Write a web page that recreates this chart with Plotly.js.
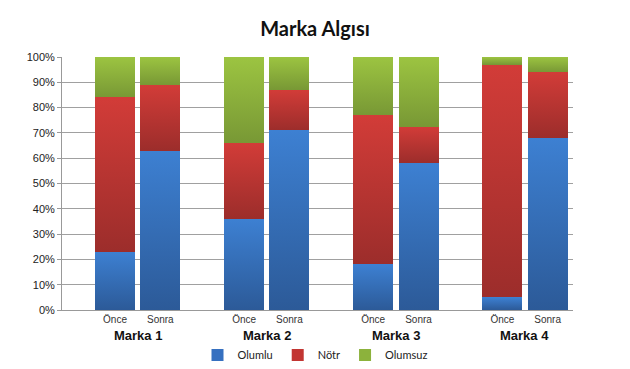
<!DOCTYPE html>
<html>
<head>
<meta charset="utf-8">
<script src="https://cdn.plot.ly/plotly-3.0.1.min.js"></script>
<style>html,body{margin:0;padding:0;background:#fff;}#chart{width:630px;height:369px;}</style>
</head>
<body>
<div id="chart"></div>
<script>
const groups = ["Marka 1", "Marka 2", "Marka 3", "Marka 4"];
const phases = ["Önce", "Sonra"];
const seriesNames = ["Olumlu", "Nötr", "Olumsuz"];
// values in %, order: M1 Önce, M1 Sonra, M2 Önce, M2 Sonra, M3 Önce, M3 Sonra, M4 Önce, M4 Sonra
const olumlu  = [23, 63, 36, 71, 18, 58, 5, 68];
const notr    = [61, 26, 30, 16, 59, 14.5, 92, 26];
const olumsuz = [16, 11, 34, 13, 23, 27.5, 3, 6];
const yTickLabels = ["0%","10%","20%","30%","40%","50%","60%","70%","80%","90%","100%"];

const groupStep = 2.85;
const xs = [], tickText = [];
groups.forEach((g, gi) => phases.forEach((p, pi) => { xs.push(gi * groupStep + pi); tickText.push(p); }));

const solid = ["#3670c0", "#c23532", "#8cb23c"];
const gradTop = ["#3d80d2", "#d23c38", "#9cc441"];
const gradBot = ["#2c5a98", "#9c2d2b", "#789835"];
const values = [olumlu, notr, olumsuz];

const traces = values.map((v, i) => ({
  type: "bar", name: seriesNames[i], x: xs, y: v, width: 0.883,
  marker: {color: solid[i], line: {width: 0}}
}));

const annotations = groups.map((g, gi) => ({
  text: "<b>" + g + "</b>", x: gi * groupStep + 0.5, xref: "x",
  y: -25 / 253, yref: "paper", yanchor: "middle", xanchor: "center",
  showarrow: false, font: {family: "Liberation Sans, Arial, sans-serif", size: 13, color: "#111"}
}));

const layout = {
  width: 630, height: 369,
  margin: {l: 62, r: 57, t: 57, b: 59},
  paper_bgcolor: "#fff", plot_bgcolor: "#fff",
  barmode: "stack",
  title: {text: "<b>Marka Algısı</b>", x: 0.5, xanchor: "center", y: 1 - 29 / 369, yanchor: "middle",
          yref: "container", font: {family: "Lato, Open Sans, sans-serif", size: 20, color: "#111"}},
  xaxis: {range: [-1.17, 10.11], tickvals: xs, ticktext: tickText, showgrid: false, zeroline: false,
          showline: true, linecolor: "#999", linewidth: 1, ticks: "", ticklen: 0, automargin: false,
          tickfont: {family: "Liberation Sans, Arial, sans-serif", size: 10, color: "#333"}},
  yaxis: {range: [0, 100], tickvals: [0,10,20,30,40,50,60,70,80,90,100], ticktext: yTickLabels,
          showgrid: true, gridcolor: "#a0a0a0", gridwidth: 1, zeroline: false, automargin: false,
          showline: true, linecolor: "#999", linewidth: 1, ticks: "outside", ticklen: 4, tickcolor: "#999",
          tickfont: {family: "Liberation Sans, Arial, sans-serif", size: 11, color: "#222"}},
  legend: {orientation: "h", x: 0.5, xref: "container", xanchor: "center",
           y: 1 - 355 / 369, yref: "container", yanchor: "middle",
           itemwidth: 30, tracegroupgap: 0,
           font: {family: "Lato, Open Sans, sans-serif", size: 11, color: "#222"}, traceorder: "normal"},
  annotations: annotations,
  showlegend: true
};

Plotly.newPlot("chart", traces, layout, {staticPlot: true, displayModeBar: false}).then(gd => {
  const svg = gd.querySelector(".main-svg");
  const ns = "http://www.w3.org/2000/svg";
  let defs = svg.querySelector("defs");
  if (!defs) { defs = document.createElementNS(ns, "defs"); svg.insertBefore(defs, svg.firstChild); }
  gradTop.forEach((c, i) => {
    const lg = document.createElementNS(ns, "linearGradient");
    lg.setAttribute("id", "bargrad" + i);
    lg.setAttribute("x1", "0"); lg.setAttribute("y1", "0"); lg.setAttribute("x2", "0"); lg.setAttribute("y2", "1");
    const s1 = document.createElementNS(ns, "stop"); s1.setAttribute("offset", "0"); s1.setAttribute("stop-color", c);
    const s2 = document.createElementNS(ns, "stop"); s2.setAttribute("offset", "1"); s2.setAttribute("stop-color", gradBot[i]);
    lg.appendChild(s1); lg.appendChild(s2); defs.appendChild(lg);
  });
  gd.querySelectorAll(".barlayer .trace").forEach((t, i) => {
    t.querySelectorAll("path").forEach(p => { p.style.fill = "url(#bargrad" + i + ")"; });
  });
});
</script>
</body>
</html>
